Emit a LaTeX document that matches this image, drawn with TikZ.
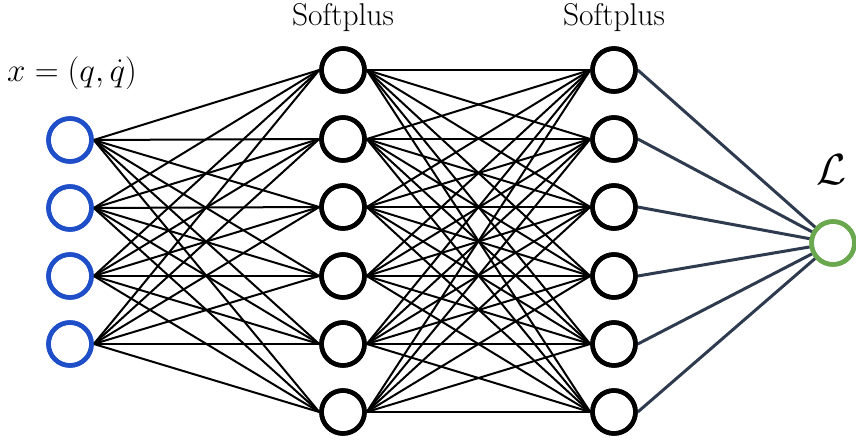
\documentclass[tikz,border=0pt]{standalone}
\usepackage{amsmath}
\usepackage{graphicx}
\definecolor{inblue}{HTML}{1F4FC8}
\definecolor{outgreen}{HTML}{6AA84F}
\definecolor{slate}{HTML}{2E3A4E}
\newcommand{\biglbl}[2]{\scalebox{#1}{\Huge #2}}
\tikzset{
  neuron/.style={circle,draw,line width=4.5pt,minimum size=43pt,inner sep=0pt,fill=white},
  inneuron/.style={neuron,draw=inblue},
  outneuron/.style={neuron,draw=outgreen},
  hidneuron/.style={neuron,draw=black},
  wire/.style={line width=2pt,black},
  outwire/.style={line width=3pt,slate},
  lbl/.style={inner sep=0pt,anchor=base}
}
\begin{document}
\begin{tikzpicture}[x=1pt,y=-1pt]
\useasboundingbox (0,0) rectangle (856,441);
% input layer
\foreach \i/\y in {1/140,2/208,3/276,4/344}{
  \node[inneuron] (in\i) at (70,\y) {};
}
% hidden layers
\foreach \i/\y in {1/70,2/139,3/207,4/276,5/344,6/412}{
  \node[hidneuron] (ha\i) at (343,\y) {};
  \node[hidneuron] (hb\i) at (614,\y) {};
}
\node[outneuron] (out) at (833,243) {};
% connections
\foreach \i in {1,...,4}{
  \foreach \j in {1,...,6}{
    \draw[wire] (in\i.east) -- (ha\j.west);
  }
}
\foreach \i in {1,...,6}{
  \foreach \j in {1,...,6}{
    \draw[wire] (ha\i.east) -- (hb\j.west);
  }
}
\foreach \i in {1,...,6}{
  \draw[outwire] (hb\i.east) -- (out);
}
% redraw rings on top of the wire ends
\foreach \i in {1,...,4}{
  \draw[inblue,line width=4.5pt] (in\i.center) circle (21.5pt);
}
\foreach \i in {1,...,6}{
  \draw[black,line width=4.5pt] (ha\i.center) circle (21.5pt);
  \draw[black,line width=4.5pt] (hb\i.center) circle (21.5pt);
}
\draw[outgreen,line width=4.5pt] (out.center) circle (21.5pt);
% labels
\node[lbl] (s1) at (343,26) {\biglbl{1.265}{Softplus}};
\node[lbl] (s2) at (614,26) {\biglbl{1.265}{Softplus}};
\node[lbl] (xl) at (72,82) {\biglbl{1.33}{$x=(q,\dot q)$}};
\node[lbl] (ll) at (832,184) {\biglbl{1.75}{$\mathcal{L}$}};
\end{tikzpicture}
\end{document}
